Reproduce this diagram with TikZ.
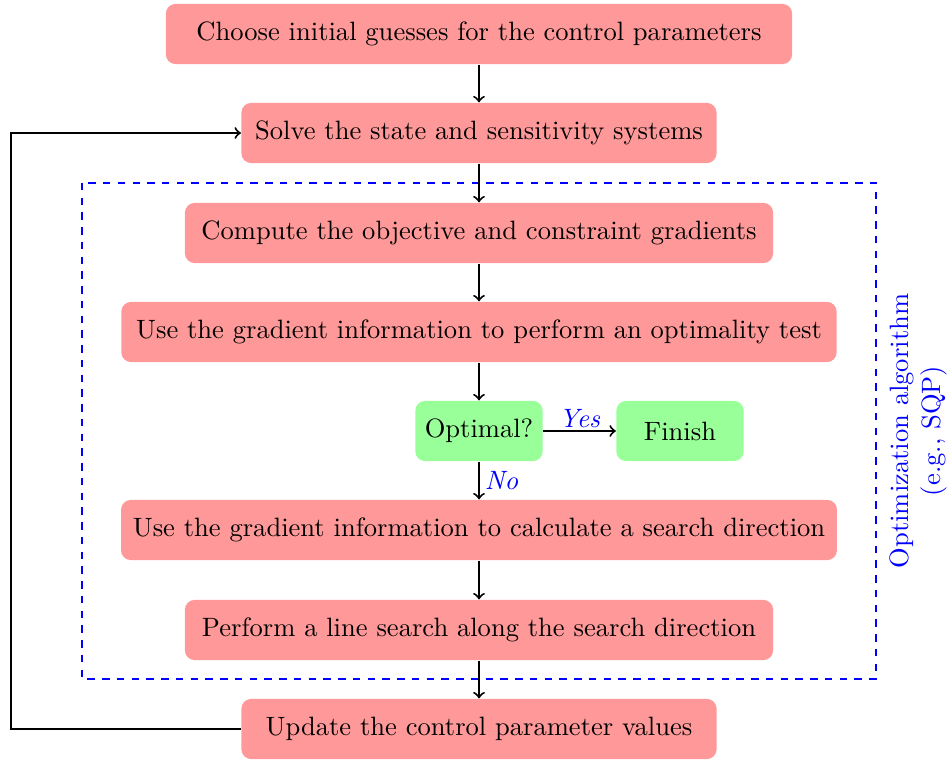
\documentclass[tikz,border=0pt]{standalone}
\usetikzlibrary{arrows}
\tikzset{
  stepbox/.style={fill=red!40, rounded corners=4pt, minimum height=24.5pt, inner xsep=4.8pt},
  testbox/.style={fill=green!40, rounded corners=4pt, minimum height=24.5pt, minimum width=51.8pt},
  flow/.style={->, thick},
  answer/.style={font=\itshape, text=blue},
}
\begin{document}
\fontsize{10.8}{13}\selectfont
\begin{tikzpicture}[x=0.0143cm, y=-0.0143cm]
	\useasboundingbox (0,0) rectangle (948,760);
	\draw[blue, dashed, thick](82,183) rectangle (876,679);
	\node[blue, rotate=90, align=center] (opt) at (918,431) {Optimization algorithm\\(e.g., SQP)};
	\node[stepbox, minimum width=254.8pt] (guess) at (479,34) {Choose initial guesses for the control parameters};
	\node[stepbox, minimum width=193.3pt] (solve) at (479,133) {Solve the state and sensitivity systems};
	\node[stepbox, minimum width=239.3pt] (grad) at (479,233) {Compute the objective and constraint gradients};
	\node[stepbox, minimum width=291pt] (test) at (479,332) {Use the gradient information to perform an optimality test};
	\node[testbox] (optimal) at (479,431) {Optimal?};
	\node[testbox] (finish) at (680,431) {Finish};
	\node[stepbox, minimum width=291pt] (dir) at (479,530) {Use the gradient information to calculate a search direction};
	\node[stepbox, minimum width=239.3pt] (line) at (479,630) {Perform a line search along the search direction};
	\node[stepbox, minimum width=193.3pt] (update) at (479,729) {Update the control parameter values};
	\coordinate (bl) at (11,729);
	\coordinate (tl) at (11,133);
	\draw[flow](guess)--(solve);
	\draw[flow](solve)--(grad);
	\draw[flow](grad)--(test);
	\draw[flow](test)--(optimal);
	\draw[flow](optimal)--node[answer, above, inner sep=1pt]{Yes}(finish);
	\draw[flow](optimal)--node[answer, right, inner sep=2pt]{No}(dir);
	\draw[flow](dir)--(line);
	\draw[flow](line)--(update);
	\draw[flow](update.west)--(bl)--(tl)--(solve.west);
\end{tikzpicture}
\end{document}
